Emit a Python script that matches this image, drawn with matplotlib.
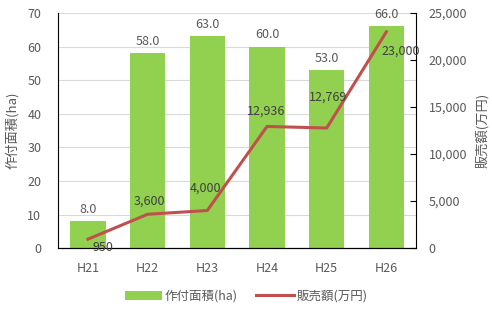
import matplotlib
matplotlib.use("Agg")
import matplotlib.pyplot as plt
from matplotlib.ticker import FuncFormatter

plt.rcParams['font.family'] = ['Noto Sans CJK JP', 'DejaVu Sans']

years = ["H21", "H22", "H23", "H24", "H25", "H26"]
area = [8.0, 58.0, 63.0, 60.0, 53.0, 66.0]
sales = [950, 3600, 4000, 12936, 12769, 23000]
# label offsets (pixels) for the sales labels
sales_off = [(15, -8), (2, 13), (-2, 22), (-1, 15), (1, 31), (14, -19)]

txt = '#595959'
fig = plt.figure(figsize=(4.92, 3.09), dpi=100)
ax = fig.add_axes([0.118, 0.197, 0.728, 0.761])
ax2 = ax.twinx()

x = list(range(len(years)))
bars = ax.bar(x, area, width=0.59, color='#92D050', zorder=2)
ax.set_ylim(0, 70)
ax.set_yticks(range(0, 71, 10))
ax.set_xlim(-0.5, len(years) - 0.5)
ax.set_xticks(x)
ax.set_xticklabels(years)
ax.grid(axis='y', color='#d9d9d9', linewidth=0.8, zorder=0)
ax.set_axisbelow(True)
for xi, v in zip(x, area):
    ax.annotate(f"{v:.1f}", (xi, v), xytext=(0, 4), textcoords='offset points',
                ha='center', va='bottom', fontsize=9, color=txt)

line, = ax2.plot(x, sales, color='#C0504D', linewidth=2.2, zorder=3)
ax2.set_ylim(0, 25000)
ax2.set_yticks(range(0, 25001, 5000))
ax2.yaxis.set_major_formatter(FuncFormatter(lambda v, p: f"{int(v):,}"))
for xi, v, off in zip(x, sales, sales_off):
    ax2.annotate(f"{v:,}", (xi, v), xytext=(off[0] * 0.72, off[1] * 0.72),
                 textcoords='offset points', ha='center', va='center',
                 fontsize=9, color='#404040')

for a in (ax, ax2):
    a.spines['top'].set_visible(False)
    for s in a.spines.values():
        s.set_color('black')
    a.tick_params(colors=txt, labelsize=9, direction='in', length=4, color='black')
ax.spines['right'].set_visible(False)
ax2.spines['left'].set_visible(False)
ax.tick_params(axis='x', length=0, pad=10)
ax.tick_params(axis='y', length=0, pad=12)
ax2.tick_params(axis='y', pad=9)

ax.set_ylabel('作付面積(ha)', fontsize=9.5, color=txt, labelpad=6)
ax2.set_ylabel('販売額(万円)', fontsize=9.5, color=txt, labelpad=6)

fig.legend([bars, line], ['作付面積(ha)', '販売額(万円)'], loc='center',
           bbox_to_anchor=(0.5, 0.042), ncol=2, frameon=False, fontsize=9,
           labelcolor=txt, handlelength=3, columnspacing=1.5, handletextpad=0.2)

fig.savefig('out.png', dpi=100)
